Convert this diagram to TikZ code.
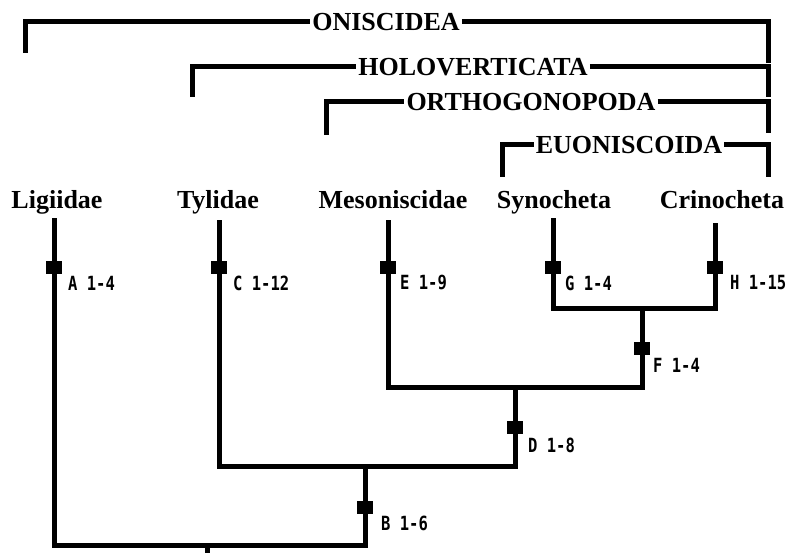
\documentclass[tikz,border=0pt]{standalone}
\usepackage{fontspec}
\setmainfont{Liberation Serif}
\newfontfamily\charfont{DejaVu Sans Mono}
\newcommand{\charset}[1]{\scalebox{0.97}[1.22]{#1}}
\begin{document}
\begin{tikzpicture}[x=1pt,y=-1pt,
  taxon/.style={font=\fontsize{26}{26}\selectfont\bfseries, anchor=base, inner sep=0pt},
  clade/.style={font=\fontsize{26}{26}\selectfont\bfseries, inner sep=2pt},
  branch/.style={line width=5pt},
  apo/.style={fill=black, minimum width=16pt, minimum height=13pt, inner sep=0pt},
  charlabel/.style={font=\charfont\bfseries\fontsize{16}{16}\selectfont, anchor=west, inner sep=0pt}]

\useasboundingbox (0,0) rectangle (791,553);

% Groupes
\node[clade] (oni) at (386,22) {ONISCIDEA};
\node[clade] (hol) at (473,67) {HOLOVERTICATA};
\node[clade] (ort) at (531,102) {ORTHOGONOPODA};
\node[clade] (euo) at (629,145) {EUONISCOIDA};

\draw[branch] (25,53) -- (25,22) -- (oni.west);
\draw[branch] (oni.east) -- (768,22) -- (768,63);
\draw[branch] (192,97) -- (192,67) -- (hol.west);
\draw[branch] (hol.east) -- (768,67) -- (768,97);
\draw[branch] (326,135) -- (326,102) -- (ort.west);
\draw[branch] (ort.east) -- (768,102) -- (768,133);
\draw[branch] (502,177) -- (502,145) -- (euo.west);
\draw[branch] (euo.east) -- (768,145) -- (768,177);

% Taxons
\node[taxon] (lig) at (57,208) {Ligiidae};
\node[taxon] (tyl) at (218,208) {Tylidae};
\node[taxon] (mes) at (393,208) {Mesoniscidae};
\node[taxon] (syn) at (554,208) {Synocheta};
\node[taxon] (cri) at (722,208) {Crinocheta};

% Arbre
\coordinate (ligtop) at (54,218);
\coordinate (tyltop) at (219,220);
\coordinate (mestop) at (388,220);
\coordinate (syntop) at (553,218);
\coordinate (critop) at (715,223);
\coordinate (root) at (207,553);

\draw[branch] (ligtop) -- (54,545) -- (365,545) -- (365,466);
\draw[branch] (tyltop) -- (219,466) -- (515,466) -- (515,387);
\draw[branch] (mestop) -- (388,387) -- (642,387) -- (642,308);
\draw[branch] (syntop) -- (553,308) -- (715,308) -- (critop);
\draw[branch] (207,545) -- (root);

% Synapomorphies
\node[apo] (a) at (54,267) {};
\node[apo] (c) at (219,267) {};
\node[apo] (e) at (388,267) {};
\node[apo] (g) at (553,267) {};
\node[apo] (h) at (715,267) {};
\node[apo] (f) at (642,348) {};
\node[apo] (d) at (515,427) {};
\node[apo] (b) at (365,507) {};

\node[charlabel] at (68,283) {\charset{A 1-4}};
\node[charlabel] at (233,283) {\charset{C 1-12}};
\node[charlabel] at (400,283) {\charset{E 1-9}};
\node[charlabel] at (565,283) {\charset{G 1-4}};
\node[charlabel] at (730,283) {\charset{H 1-15}};
\node[charlabel] at (653,365) {\charset{F 1-4}};
\node[charlabel] at (528,445) {\charset{D 1-8}};
\node[charlabel] at (381,523) {\charset{B 1-6}};

\end{tikzpicture}
\end{document}
